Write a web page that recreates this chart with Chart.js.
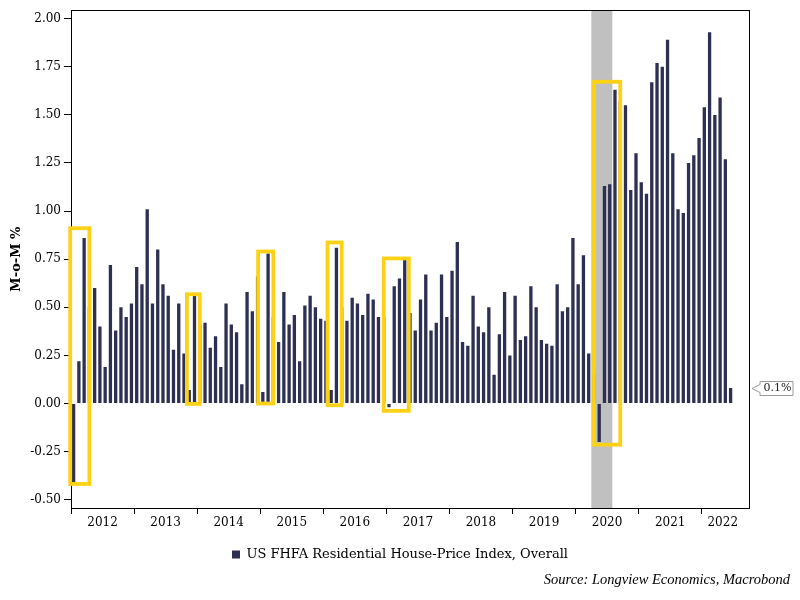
<!DOCTYPE html>
<html>
<head>
<meta charset="UTF-8">
<title>US FHFA House-Price Index, M-o-M %</title>
<script src="https://cdn.jsdelivr.net/npm/chart.js@4.4.1/dist/chart.umd.min.js"></script>
<style>
  html, body { margin: 0; padding: 0; background: #fff; }
</style>
</head>
<body>
<canvas id="hpiChart" width="800" height="600"></canvas>

<script>
// axis runs Jan 2012 .. Sep 2022, data stops at Jun 2022
var firstYear = 2012;
var monthCount = 129;

// US FHFA HPI, month-on-month % (a few bars sit under the yellow boxes, guessed)
var momValues = [
  -0.41, 0.22, 0.86, 0.50, 0.60, 0.40, 0.19, 0.72, 0.38, 0.50, 0.45, 0.52,   // 2012
  0.71, 0.62, 1.01, 0.52, 0.80, 0.62, 0.56, 0.28, 0.52, 0.26, 0.07, 0.56,    // 2013
  0.41, 0.42, 0.29, 0.35, 0.19, 0.52, 0.41, 0.37, 0.10, 0.58, 0.48, 0.66,    // 2014
  0.06, 0.78, 0.45, 0.32, 0.58, 0.41, 0.46, 0.22, 0.51, 0.56, 0.50, 0.44,    // 2015
  0.43, 0.07, 0.81, 0.50, 0.43, 0.55, 0.52, 0.46, 0.57, 0.54, 0.45, 0.45,    // 2016
  -0.02, 0.61, 0.65, 0.75, 0.47, 0.38, 0.54, 0.67, 0.38, 0.42, 0.67, 0.45,   // 2017
  0.69, 0.84, 0.32, 0.30, 0.56, 0.40, 0.37, 0.50, 0.15, 0.36, 0.58, 0.25,    // 2018
  0.56, 0.33, 0.35, 0.61, 0.50, 0.33, 0.31, 0.30, 0.62, 0.48, 0.50, 0.86,    // 2019
  0.62, 0.77, 0.26, 0.15, -0.20, 1.13, 1.14, 1.63, 1.57, 1.55, 1.11, 1.30,   // 2020
  1.15, 1.09, 1.67, 1.77, 1.75, 1.89, 1.30, 1.01, 0.99, 1.25, 1.29, 1.38,    // 2021
  1.54, 1.93, 1.50, 1.59, 1.27, 0.08                                         // 2022
];

var yTicks = [-0.5, -0.25, 0, 0.25, 0.5, 0.75, 1, 1.25, 1.5, 1.75, 2];
var yearLabels = ['2012', '2013', '2014', '2015', '2016', '2017', '2018', '2019', '2020', '2021', '2022'];
var yearLabelAt = [6, 18, 30, 42, 54, 66, 78, 90, 102, 114, 124];

// shaded months (category index range)
var recession = { from: 99, to: 102 };

// yellow highlight boxes, in category index / value units
var highlightBoxes = [
  { x0: -0.65, x1: 3, y0: -0.418, y1: 0.911 },
  { x0: 21.55, x1: 24, y0: -0.002, y1: 0.568 },
  { x0: 35.1, x1: 38, y0: 0.0, y1: 0.790 },
  { x0: 48.3, x1: 51, y0: -0.009, y1: 0.837 },
  { x0: 59, x1: 63.77, y0: -0.038, y1: 0.754 },
  { x0: 99, x1: 104, y0: -0.214, y1: 1.672 }
];

var monthNames = ['Jan', 'Feb', 'Mar', 'Apr', 'May', 'Jun', 'Jul', 'Aug', 'Sep', 'Oct', 'Nov', 'Dec'];
var categories = [];
for (var i = 0; i < monthCount; i++) {
  categories.push(monthNames[i % 12] + ' ' + (firstYear + Math.floor(i / 12)));
}
var barData = momValues.slice();
while (barData.length < monthCount) barData.push(null);

var serif = 'DejaVu Serif';

var decorations = {
  id: 'decorations',
  beforeDatasetsDraw: function (chart) {
    var ctx = chart.ctx, area = chart.chartArea, x = chart.scales.x;
    var step = x.getPixelForValue(1) - x.getPixelForValue(0);
    var left = x.getPixelForValue(recession.from) - step / 2;
    var right = x.getPixelForValue(recession.to) + step / 2;
    ctx.save();
    ctx.fillStyle = '#c0c0c0';
    ctx.fillRect(left, area.top, right - left, area.bottom - area.top);
    ctx.strokeStyle = '#000';
    ctx.lineWidth = 1;
    ctx.strokeRect(Math.round(area.left) + 0.5, Math.round(area.top) + 0.5,
      Math.round(area.right - area.left), Math.round(area.bottom - area.top));
    ctx.restore();
  },
  afterDatasetsDraw: function (chart) {
    var ctx = chart.ctx, x = chart.scales.x, y = chart.scales.y;
    var x0 = x.getPixelForValue(0);
    var step = x.getPixelForValue(1) - x0;
    ctx.save();
    ctx.strokeStyle = '#fcd116';
    ctx.lineWidth = 3.8;
    highlightBoxes.forEach(function (b) {
      var l = x0 + b.x0 * step, r = x0 + b.x1 * step;
      var t = y.getPixelForValue(b.y1), btm = y.getPixelForValue(b.y0);
      ctx.strokeRect(l, t, r - l, btm - t);
    });
    ctx.restore();
  },
  afterDraw: function (chart) {
    var ctx = chart.ctx, area = chart.chartArea, y = chart.scales.y;
    var last = momValues[momValues.length - 1];
    var py = Math.round(y.getPixelForValue(last)) + 0.5;
    var tipX = area.right + 3, boxL = area.right + 11, boxR = area.right + 44;
    ctx.save();
    ctx.beginPath();
    ctx.moveTo(tipX, py);
    ctx.lineTo(boxL, py - 4);
    ctx.lineTo(boxL, py - 7);
    ctx.lineTo(boxR, py - 7);
    ctx.lineTo(boxR, py + 7);
    ctx.lineTo(boxL, py + 7);
    ctx.lineTo(boxL, py + 4);
    ctx.closePath();
    ctx.fillStyle = '#fff';
    ctx.fill();
    ctx.strokeStyle = '#9a9a9a';
    ctx.lineWidth = 1;
    ctx.stroke();
    ctx.fillStyle = '#222';
    ctx.font = '11px "' + serif + '"';
    ctx.textAlign = 'center';
    ctx.textBaseline = 'middle';
    ctx.fillText(last.toFixed(1) + '%', (boxL + boxR) / 2 + 1, py);

    ctx.font = 'italic 14.5px "Liberation Serif"';
    ctx.textAlign = 'right';
    ctx.textBaseline = 'alphabetic';
    ctx.fillStyle = '#000';
    ctx.fillText('Source: Longview Economics, Macrobond', 790, 584);
    ctx.restore();
  }
};

new Chart(document.getElementById('hpiChart'), {
  type: 'bar',
  data: {
    labels: categories,
    datasets: [{
      label: 'US FHFA Residential House-Price Index, Overall',
      data: barData,
      backgroundColor: '#2d3050',
      borderWidth: 0,
      barPercentage: 0.63,
      categoryPercentage: 1.0
    }]
  },
  options: {
    responsive: false,
    animation: false,
    events: [],
    layout: { padding: { top: 6, left: 0, right: 0, bottom: 29 } },
    plugins: {
      tooltip: { enabled: false },
      legend: {
        position: 'bottom',
        labels: {
          color: '#000',
          font: { family: serif, size: 13 },
          boxWidth: 8,
          boxHeight: 8,
          padding: 10
        }
      }
    },
    scales: {
      x: {
        offset: true,
        grid: {
          offset: true,
          drawOnChartArea: false,
          drawTicks: true,
          tickLength: 6,
          tickColor: function (c) {
            return (c.index % 12 === 0 && c.index < monthCount) ? '#000' : 'rgba(0,0,0,0)';
          }
        },
        border: { display: true, color: '#000', width: 1 },
        ticks: {
          autoSkip: false,
          maxRotation: 0,
          minRotation: 0,
          padding: 2,
          labelOffset: -2.6,
          color: '#000',
          font: { family: serif, size: 12 },
          callback: function (v, i) {
            var k = yearLabelAt.indexOf(i);
            return k >= 0 ? yearLabels[k] : '';
          }
        },
        afterFit: function (s) { s.height = 30; }
      },
      y: {
        min: -0.543,
        max: 2.044,
        grid: {
          drawOnChartArea: false,
          drawTicks: true,
          tickLength: 7,
          tickColor: '#000'
        },
        border: { display: true, color: '#000', width: 1 },
        ticks: {
          padding: 3,
          color: '#000',
          font: { family: serif, size: 12 },
          callback: function (v) { return Number(v).toFixed(2); }
        },
        afterBuildTicks: function (s) {
          s.ticks = yTicks.map(function (v) { return { value: v }; });
        },
        title: {
          display: true,
          text: 'M-o-M %',
          color: '#000',
          font: { family: serif, size: 13, weight: 'bold' },
          padding: { top: 9, bottom: 0 }
        },
        afterFit: function (s) { s.width = 71; }
      },
      yRight: {
        position: 'right',
        display: true,
        grid: { display: false },
        border: { display: false },
        ticks: { display: false },
        afterFit: function (s) { s.width = 51; }
      }
    }
  },
  plugins: [decorations]
});
</script>
</body>
</html>
